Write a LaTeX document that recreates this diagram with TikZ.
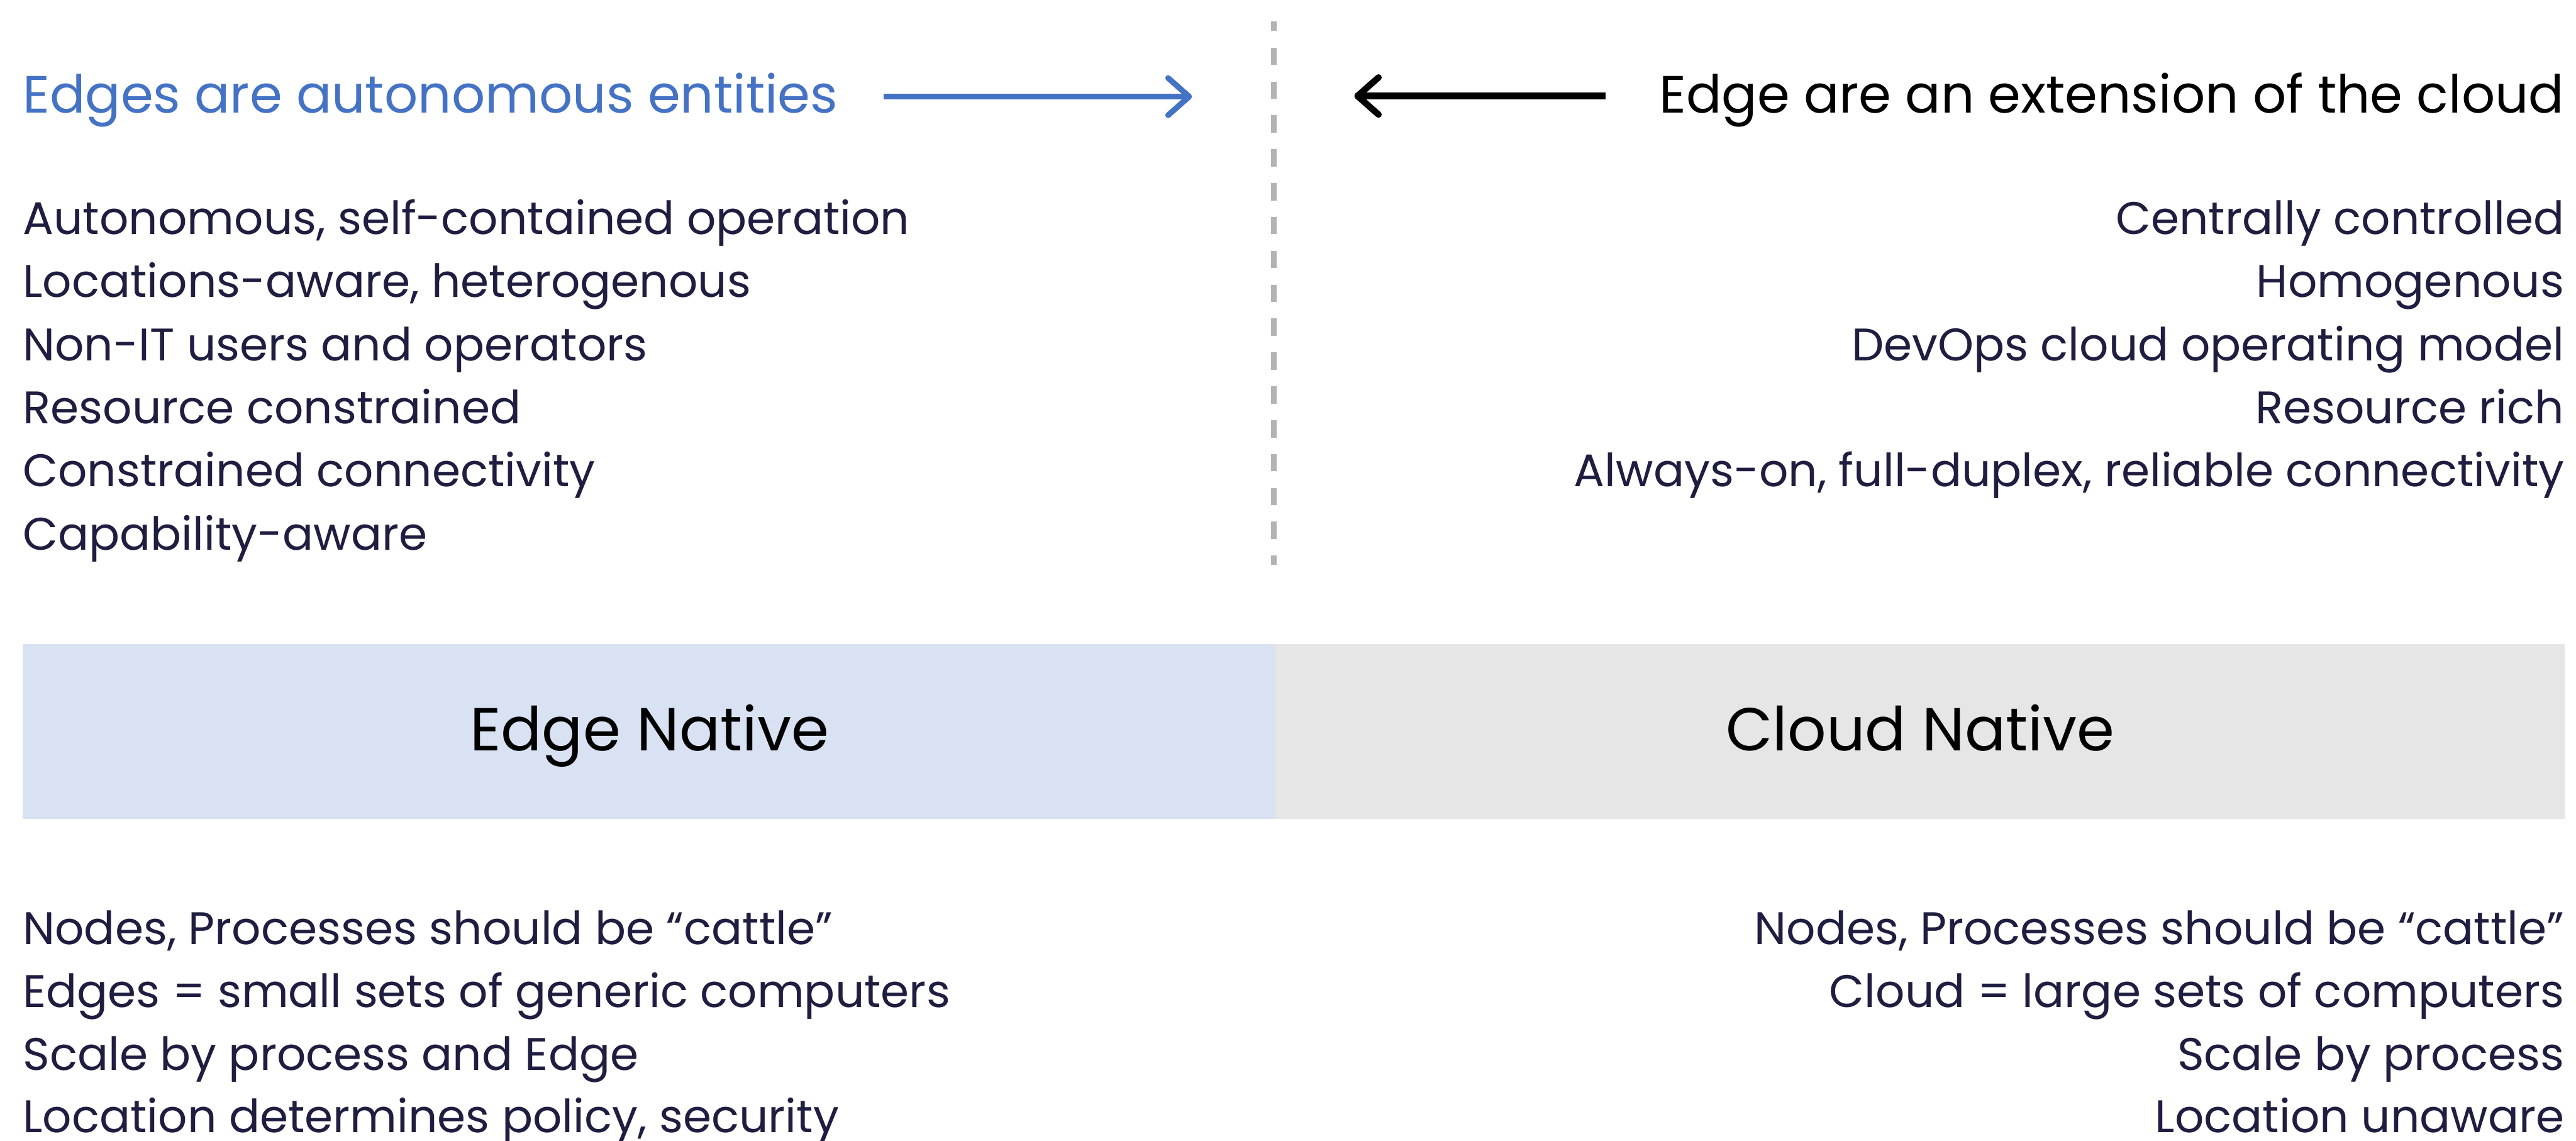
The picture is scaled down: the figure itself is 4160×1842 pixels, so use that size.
\documentclass[tikz,border=0pt]{standalone}
\usepackage{fontspec}
\setmainfont{Poppins}
\usetikzlibrary{arrows.meta}
\definecolor{navy}{RGB}{31,29,64}
\definecolor{eblue}{RGB}{68,114,196}
\definecolor{boxblue}{RGB}{217,226,243}
\definecolor{boxgray}{RGB}{230,230,230}
\definecolor{dashgray}{RGB}{179,179,179}
\newlength\mytmpw
\newcommand\fitsize[3]{\settowidth\mytmpw{\normalfont\fontsize{10pt}{12pt}\selectfont #3}\pgfmathsetmacro#1{10*#2/\mytmpw}}
\newcommand\bodyfont{\fontsize{\bodysz pt}{\bodysz pt}\selectfont}
\newcommand\titlefont{\fontsize{\titlesz pt}{\titlesz pt}\selectfont}
\newcommand\labelfont{\fontsize{\labelsz pt}{\labelsz pt}\selectfont}
\tikzset{
  txt/.style={inner sep=0pt, outer sep=0pt, text=navy, font=\bodyfont},
  lt/.style={txt, anchor=base west},
  rt/.style={txt, anchor=base east},
  ttl/.style={inner sep=0pt, outer sep=0pt, font=\titlefont},
  lbl/.style={inner sep=0pt, outer sep=0pt, font=\labelfont, text=black, anchor=base},
  panel/.style={inner sep=0pt, outer sep=0pt, draw=none, anchor=north west},
  arr/.style={line width=2.3pt, -{Straight Barb[length=8.5pt,width=15pt,line cap=round,line join=round]}},
}
\begin{document}
\fitsize{\bodysz}{358}{Autonomous, self-contained operation}%
\fitsize{\titlesz}{329}{Edges are autonomous entities}%
\fitsize{\labelsz}{145}{Edge Native}%
\begin{tikzpicture}[x=0.25pt, y=-0.25pt]
\useasboundingbox (0,0) rectangle (4160,1842);
% panels
\node[panel, fill=boxblue, minimum width=505.75pt, minimum height=70.5pt] (edgebox) at (37,1040) {};
\node[panel, fill=boxgray, minimum width=520.5pt, minimum height=70.5pt] (cloudbox) at (2060,1040) {};
\node[lbl] (edgelbl) at (1049,1212) {Edge Native};
\node[lbl] (cloudlbl) at (3101,1212) {Cloud Native};
% divider
\coordinate (dtop) at (2057,35);
\coordinate (dbot) at (2057,912);
\draw[dashgray, line width=2.15pt, dash pattern=on 7pt off 6.67pt, dash phase=3.2pt] (dtop) -- (dbot);
% titles
\node[ttl, text=eblue, anchor=base west] (ltitle) at (37,182) {Edges are autonomous entities};
\node[ttl, text=black, anchor=base east] (rtitle) at (4141,182) {Edge are an extension of the cloud};
\coordinate (ba1) at (1427,156);
\coordinate (ba2) at (1925,156);
\draw[arr, eblue] (ba1) -- (ba2);
\coordinate (ka1) at (2593,155);
\coordinate (ka2) at (2187,155);
\draw[arr, black, line width=2.6pt] (ka1) -- (ka2);
% left top list
\node[lt] (l1) at (37,378) {Autonomous, self-contained operation};
\node[lt] (l2) at (37,480) {Locations-aware, heterogenous};
\node[lt] (l3) at (37,582) {Non-IT users and operators};
\node[lt] (l4) at (37,684) {Resource constrained};
\node[lt] (l5) at (37,786) {Constrained connectivity};
\node[lt] (l6) at (37,888) {Capability-aware};
% right top list
\node[rt] (r1) at (4141,378) {Centrally controlled};
\node[rt] (r2) at (4141,480) {Homogenous};
\node[rt] (r3) at (4141,582) {DevOps cloud operating model};
\node[rt] (r4) at (4141,684) {Resource rich};
\node[rt] (r5) at (4141,786) {Always-on, full-duplex, reliable connectivity};
% left bottom list
\node[lt] (lb1) at (37,1525) {Nodes, Processes should be “cattle”};
\node[lt] (lb2) at (37,1627) {Edges = small sets of generic computers};
\node[lt] (lb3) at (37,1728) {Scale by process and Edge};
\node[lt] (lb4) at (37,1829) {Location determines policy, security};
% right bottom list
\node[rt] (rb1) at (4141,1525) {Nodes, Processes should be “cattle”};
\node[rt] (rb2) at (4141,1627) {Cloud = large sets of computers};
\node[rt] (rb3) at (4141,1728) {Scale by process};
\node[rt] (rb4) at (4141,1829) {Location unaware};
\end{tikzpicture}
\end{document}
